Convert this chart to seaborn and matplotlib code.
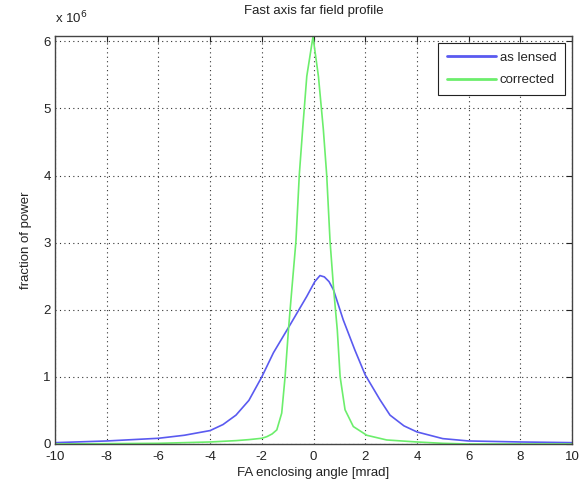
import numpy as np
import pandas as pd
import matplotlib
matplotlib.use("Agg")
import matplotlib.pyplot as plt
import seaborn as sns

# FA enclosing angle [mrad]
angle_lensed = [-10, -8, -6, -5, -4, -3.5, -3, -2.5, -2, -1.55, -0.9, -0.26, 0.05,
                0.25, 0.42, 0.6, 0.77, 1.15, 1.6, 2.0, 2.57, 2.96, 3.5, 4, 5, 6, 8, 10]
# fraction of power (x 1e6)
power_lensed = [0.02, 0.045, 0.085, 0.13, 0.2, 0.29, 0.43, 0.65, 1.0, 1.36, 1.78,
                2.2, 2.42, 2.51, 2.49, 2.42, 2.3, 1.85, 1.40, 1.03, 0.66, 0.43,
                0.27, 0.18, 0.08, 0.045, 0.03, 0.02]

angle_corrected = [-10, -6, -4, -3, -2.5, -2, -1.8, -1.6, -1.42, -1.23, -1.1, -0.97,
                   -0.84, -0.68, -0.55, -0.42, -0.26, -0.02, 0.19, 0.38, 0.51, 0.64,
                   0.78, 0.92, 1.03, 1.22, 1.54, 2.06, 2.83, 4, 5, 6, 10]
power_corrected = [0.0, 0.01, 0.03, 0.05, 0.065, 0.085, 0.11, 0.15, 0.21, 0.46, 1.0,
                   1.7, 2.3, 3.02, 4.01, 4.69, 5.48, 6.07, 5.48, 4.69, 4.01, 3.02,
                   2.3, 1.7, 1.0, 0.51, 0.26, 0.13, 0.06, 0.03, 0.01, 0.0, 0.0]

series_names = ["as lensed", "corrected"]
colors = ["#5a5af0", "#6cee6c"]

df = pd.concat([
    pd.DataFrame({"angle": angle_lensed, "power": power_lensed, "series": series_names[0]}),
    pd.DataFrame({"angle": angle_corrected, "power": power_corrected, "series": series_names[1]}),
], ignore_index=True)

sns.set_style("white")
plt.rcParams["font.family"] = ["Liberation Sans", "DejaVu Sans"]
plt.rcParams["axes.unicode_minus"] = False

fig = plt.figure(figsize=(5.81, 4.90), dpi=100)
ax = fig.add_axes([0.0947, 0.0939, 0.8898, 0.8326])

sns.lineplot(data=df, x="angle", y="power", hue="series", palette=colors,
             estimator=None, sort=True, linewidth=1.2, ax=ax)

ax.set_xlim(-10, 10)
ax.set_ylim(0, 6.08)
ax.set_xticks(np.arange(-10, 11, 2))
ax.set_yticks(np.arange(0, 7, 1))
ax.grid(True, color="#333333", linestyle=(0, (1, 3)), linewidth=0.8)
ax.tick_params(direction="in", top=True, right=True, length=4, labelsize=9.5,
               colors="#222222", pad=3)
ax.tick_params(axis="x", pad=5)
for s in ax.spines.values():
    s.set_color("#444444")
    s.set_linewidth(1.0)

ax.set_xlabel("FA enclosing angle [mrad]", fontsize=9.5, color="#222222", labelpad=3)
ax.set_ylabel("fraction of power", fontsize=9.5, color="#222222", labelpad=8)
ax.set_title("Fast axis far field profile", fontsize=9.5, color="#222222", pad=16)
ax.text(0.0, 1.025, r"x 10$^{6}$", transform=ax.transAxes, fontsize=9.5,
        color="#222222", ha="left", va="bottom")

leg = ax.legend(loc="upper right", fontsize=9.5, frameon=True, fancybox=False,
                edgecolor="#222222", framealpha=1, handlelength=3.7,
                borderaxespad=0.5, handletextpad=0.3, borderpad=0.7,
                labelspacing=0.75)
leg.get_frame().set_linewidth(0.8)
for line in leg.get_lines():
    line.set_linewidth(2.0)

fig.savefig("out.png", dpi=100, facecolor="white")
